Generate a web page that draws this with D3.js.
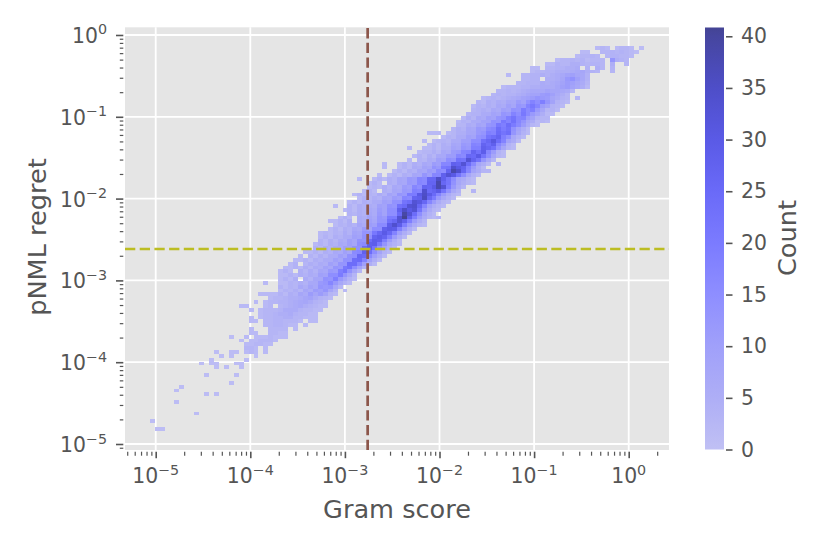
<!DOCTYPE html>
<html>
<head>
<meta charset="utf-8">
<script src="https://cdn.jsdelivr.net/npm/d3@7"></script>
<style>
	body { margin: 0; background: #fff; }
	text { font-family: "DejaVu Sans"; fill: #555; }
</style>
</head>
<body>
<script>
// log10 range of the histogram, 100 bins each way
var xBinStart = -5.0634, xBinStep = 0.05227;
var yBinStart = -0.1406, yBinStep = -0.04698;

// first filled x bin of each row, row 0 is the top one
var rowStart = [90,87,86,82,80,77,77,72,75,74,71,70,69,67,66,65,65,64,63,62,
	62,61,56,59,55,56,52,54,53,52,47,47,49,46,42,44,44,43,41,42,
	40,37,39,40,38,36,37,36,34,34,34,33,33,31,30,29,28,27,26,26,
	26,23,26,26,22,24,21,18,20,22,20,20,23,20,20,16,18,19,19,13,
	14,12,10,13,0,11,0,16,6,5,11,0,5,0,0,9,0,0,0,1];

// counts of each row
var rowCounts = [
	[2,3,2,0,2,3,3,2,0,1],
	[2,2,0,0,3,3,4,3,4,3,2,1],
	[2,3,3,4,3,0,3,4,4,3,3,2],
	[2,3,3,4,3,4,2,3,3,3,0,13,5,4,3],
	[2,2,4,3,3,5,5,4,3,4,4,3,0,5,0,0,3],
	[2,2,0,3,3,4,4,5,5,6,0,4,0,5,3,0,4],
	[2,3,3,4,4,5,5,5,6,7,8,5,4,3,0,0,3],
	[2,0,0,3,3,4,4,5,4,5,6,7,9,10,8,7,4],
	[3,3,4,4,0,5,5,6,8,12,14,10,7,4],
	[3,3,4,4,4,6,5,6,7,9,11,10,8,6,3],
	[2,3,3,3,4,4,5,5,6,6,6,8,10,11,9,7,5,2],
	[3,3,4,3,4,5,6,7,7,7,9,8,8,7,6,3],
	[3,4,3,4,4,5,6,8,9,9,11,12,10,7,5,3],
	[2,3,4,3,4,5,6,7,9,10,11,13,12,11,8,6,4,3,0,3],
	[3,2,5,4,6,5,8,7,11,9,14,18,15,19,13,9,4,3,2],
	[2,4,3,5,4,7,6,10,8,13,12,18,21,17,11,9,4,3,2],
	[3,4,5,4,7,6,10,9,14,13,20,16,19,12,8,3,4,2],
	[3,4,4,6,6,9,8,13,12,18,15,21,16,12,9,5,2,2],
	[2,5,3,7,6,10,9,13,14,19,22,17,18,11,9,4,3,3],
	[2,4,3,6,6,9,9,14,13,21,18,23,17,13,8,6,2,3,2],
	[3,3,6,5,9,8,13,14,21,19,24,20,16,11,6,3,2],
	[3,5,4,8,7,12,11,16,17,24,20,23,14,9,5,2],
	[2,2,2,0,2,3,5,5,8,8,12,13,19,18,25,22,24,13,8,4,2],
	[2,4,3,6,6,10,9,14,15,22,24,27,19,15,7,4,2],
	[2,0,2,3,4,3,6,6,10,10,15,15,23,26,31,24,18,9,6,2],
	[2,4,2,5,4,8,7,12,11,18,17,27,24,28,17,12,4,2],
	[2,0,0,2,2,4,2,5,5,9,8,13,12,19,19,28,26,23,14,8,3,2],
	[2,3,3,5,3,7,6,11,12,17,18,27,23,29,17,11,4,2],
	[2,4,2,5,3,7,7,11,11,17,16,26,25,30,22,15,8,3,2],
	[2,0,4,3,6,5,10,9,15,14,23,22,33,27,22,13,7,3],
	[2,0,0,2,4,2,5,4,7,6,11,10,17,17,28,27,33,24,16,8,5,2,0,3],
	[2,0,0,2,4,2,6,5,9,8,14,12,21,22,34,30,27,18,11,5,2],
	[2,4,2,5,4,8,7,11,10,16,15,27,38,34,26,17,9,6,3,3],
	[2,0,2,4,2,5,4,8,7,13,10,17,17,28,33,30,22,15,8,4,2],
	[2,0,0,2,4,2,5,4,8,7,12,11,17,16,26,26,35,28,22,15,8,6,3,2],
	[2,4,2,0,5,4,8,7,12,11,17,16,27,27,38,26,22,14,8,5,3,2],
	[2,3,2,5,3,7,6,11,10,17,15,27,26,30,38,33,20,12,6,3],
	[2,4,2,0,5,4,8,7,12,11,19,18,34,25,27,30,22,14,7,4,0,0,3],
	[2,4,2,4,3,6,4,9,7,13,12,20,20,30,35,30,25,18,11,6,3,2],
	[2,4,3,5,4,8,7,11,10,17,16,27,28,36,26,20,12,7,4,2],
	[2,4,2,5,4,6,6,10,9,14,14,22,24,33,31,26,17,11,6,3,2],
	[2,0,0,4,2,5,4,6,5,10,9,14,13,23,25,33,34,26,17,9,5,3,2],
	[2,4,2,5,4,7,6,11,9,15,15,28,35,30,33,22,12,6,3,2],
	[4,3,5,4,8,6,12,9,15,15,25,39,33,24,15,8,4,2],
	[2,4,2,0,6,5,9,7,13,12,20,20,33,41,28,19,11,6,3,2,3],
	[2,2,4,2,5,0,6,5,10,8,13,13,23,26,33,28,19,11,6,3],
	[2,4,3,5,4,8,6,11,10,16,16,29,34,29,19,11,6,3,2],
	[2,4,2,5,4,7,6,11,9,15,15,28,30,29,19,11,5,2],
	[2,3,2,4,3,6,4,9,8,13,13,21,26,30,26,18,10,5,2],
	[2,4,2,5,4,6,6,10,9,14,15,27,29,27,19,11,5,2],
	[4,2,5,3,6,5,10,8,14,13,24,29,28,19,11,5,2],
	[2,4,2,5,4,7,6,10,8,15,16,28,29,21,13,6,4,2],
	[4,2,5,4,6,6,10,9,14,14,25,29,22,13,8,4,2],
	[2,2,4,2,5,4,7,6,10,8,16,17,28,24,15,9,4,2],
	[2,0,4,2,5,3,6,6,10,8,14,15,26,25,16,10,5,2],
	[2,2,4,2,5,4,6,6,10,8,14,14,24,25,18,10,5,2],
	[2,4,0,3,5,4,6,5,10,8,13,13,24,24,17,10,5,2],
	[2,2,4,2,5,3,6,5,9,7,13,12,21,23,15,9,4],
	[2,4,2,0,5,3,6,4,8,7,12,11,19,22,14,8,3],
	[2,2,4,2,5,4,6,5,10,9,15,15,20,13,8,3],
	[2,4,2,5,0,6,4,8,8,14,13,19,12,8,4,2],
	[2,0,0,2,2,4,3,5,4,7,7,12,13,17,12,7,4,2],
	[4,2,4,3,7,5,9,7,13,12,13,7,3],
	[2,4,3,5,3,8,6,11,10,13,8,4,0,2],
	[2,2,2,2,4,2,5,4,8,6,11,8,11,8,3,2],
	[2,3,3,4,5,5,6,8,9,6,4,3,2],
	[2,0,2,3,3,4,4,5,6,7,8,6,4,3,2],
	[2,2,0,0,0,2,3,0,3,4,5,6,7,5,4,3,2,2],
	[2,0,2,3,3,3,4,6,6,6,4,3,3,2,2],
	[2,3,3,4,5,5,6,4,3,3,2,2],
	[2,0,2,3,3,4,4,5,5,3,3,2,2,2],
	[2,2,0,3,3,4,4,3,3,3,2,0,2,2],
	[3,3,4,4,3,2,2,0,2],
	[2,0,0,0,3,3,3,3,0,2],
	[2,2,0,0,3,3,2,2],
	[1,0,0,2,0,2,2,2,3,2,2,2],
	[1,0,2,2,3,3,3,2],
	[2,2,3,3,2,2],
	[3,3,2,0,2],
	[1,0,0,1,1,0,2,3,2,0,2],
	[1,0,1,0,0,0,0,1],
	[1,0,0,0,0,0,0,1],
	[1,0,1,1,0,0,0,1,1],
	[1,0,1,0,0,1],
	[],
	[1,0,0,0,0,0,1],
	[],
	[1],
	[1],
	[1],
	[1,0,1],
	[],
	[1],
	[],
	[],
	[1],
	[],
	[1],
	[],
	[1,1]
];

var xMajor = [-5,-4,-3,-2,-1,0];
var yMajor = [-5,-4,-3,-2,-1,0];
var minorSteps = [2,3,4,5,6,7,8,9];
var cbarTicks = [0,5,10,15,20,25,30,35,40];
var cbarMax = 40.85;
var vLine = 0.00174;
var hLine = 0.00242;

var colorStops = [0,5,10,15,20,25,30,35,40,cbarMax];
var colorValues = ['#c0c0f4','#aeaef6','#a0a0fa','#8e8eff','#7b7bff','#6a6af8','#5a5ae6','#4e4ec8','#46469f','#444494'];

var left = 125, right = 669, top_ = 27.3, bottom = 450;

var x = d3.scaleLog().domain([Math.pow(10,-5.3245), Math.pow(10,0.426)]).range([left, right]);
var y = d3.scaleLog().domain([Math.pow(10,-5.0733), Math.pow(10,0.094)]).range([bottom, top_]);
var color = d3.scaleLinear().domain(colorStops).range(colorValues);
var cbarY = d3.scaleLinear().domain([0, cbarMax]).range([449.5, 27.5]);

var svg = d3.select('body').append('svg')
	.attr('width', 830)
	.attr('height', 553)
	.style('display', 'block');

svg.append('rect')
	.attr('x', left).attr('y', top_)
	.attr('width', right - left).attr('height', bottom - top_)
	.attr('fill', '#e5e5e5');

// grid
svg.selectAll('.gx').data(xMajor).enter().append('line')
	.attr('x1', function(d){ return x(Math.pow(10,d)) })
	.attr('x2', function(d){ return x(Math.pow(10,d)) })
	.attr('y1', top_).attr('y2', bottom)
	.attr('stroke', '#fff').attr('stroke-width', 1.8);
svg.selectAll('.gy').data(yMajor).enter().append('line')
	.attr('y1', function(d){ return y(Math.pow(10,d)) })
	.attr('y2', function(d){ return y(Math.pow(10,d)) })
	.attr('x1', left).attr('x2', right)
	.attr('stroke', '#fff').attr('stroke-width', 1.8);

// flatten rows to cells
var cells = [];
rowCounts.forEach(function(row, j) {
	row.forEach(function(c, k) {
		if(c > 0) cells.push({i: rowStart[j] + k, j: j, c: c});
	});
});

svg.append('g').selectAll('rect').data(cells).enter().append('rect')
	.attr('x', function(d){ return x(Math.pow(10, xBinStart + d.i * xBinStep)) })
	.attr('width', function(d){ return x(Math.pow(10, xBinStart + (d.i + 1) * xBinStep)) - x(Math.pow(10, xBinStart + d.i * xBinStep)) })
	.attr('y', function(d){ return y(Math.pow(10, yBinStart + d.j * yBinStep)) })
	.attr('height', function(d){ return y(Math.pow(10, yBinStart + (d.j + 1) * yBinStep)) - y(Math.pow(10, yBinStart + d.j * yBinStep)) })
	.attr('fill', function(d){ return color(d.c) })
	.attr('shape-rendering', 'crispEdges');

// threshold lines
svg.append('line')
	.attr('x1', x(vLine)).attr('x2', x(vLine))
	.attr('y1', bottom).attr('y2', top_)
	.attr('stroke', '#8c564b').attr('stroke-width', 2.7)
	.attr('stroke-dasharray', '10.3 4.4');
svg.append('line')
	.attr('x1', left).attr('x2', right)
	.attr('y1', y(hLine)).attr('y2', y(hLine))
	.attr('stroke', '#bcbd22').attr('stroke-width', 2.7)
	.attr('stroke-dasharray', '10.3 4.4');

function minors(scale) {
	var d = scale.domain(), out = [];
	for (var e = -7; e <= 1; e++) {
		minorSteps.forEach(function(m) {
			var v = m * Math.pow(10, e);
			if (v >= d[0] && v <= d[1]) out.push(v);
		});
	}
	return out;
}

// ticks sit 1.7px away from the axes, like the original
function styleAxis(g) {
	g.select('.domain').remove();
	g.selectAll('.tick line').attr('stroke', '#555');
}

function expLabel(sel, exp) {
	sel.append('tspan').text('10');
	sel.append('tspan')
		.attr('font-size', 14.3)
		.attr('dy', -8.5)
		.text(exp < 0 ? '\u2212' + (-exp) : exp);
}

var xAxisG = svg.append('g').attr('transform', 'translate(0,' + (bottom + 1.7) + ')');
xAxisG.append('g').call(d3.axisBottom(x).tickValues(minors(x)).tickSize(4).tickFormat(''))
	.call(styleAxis).selectAll('.tick line').attr('stroke-width', 1.2);
xAxisG.append('g').call(d3.axisBottom(x).tickValues(xMajor.map(function(d){ return Math.pow(10,d) })).tickSize(6.5).tickFormat(''))
	.call(styleAxis).selectAll('.tick line').attr('stroke-width', 1.6);

var yAxisG = svg.append('g').attr('transform', 'translate(' + (left - 1.7) + ',0)');
yAxisG.append('g').call(d3.axisLeft(y).tickValues(minors(y)).tickSize(3.5).tickFormat(''))
	.call(styleAxis).selectAll('.tick line').attr('stroke-width', 1.2);
yAxisG.append('g').call(d3.axisLeft(y).tickValues(yMajor.map(function(d){ return Math.pow(10,d) })).tickSize(7.3).tickFormat(''))
	.call(styleAxis).selectAll('.tick line').attr('stroke-width', 1.6);

xMajor.forEach(function(d) {
	svg.append('text')
		.attr('x', x(Math.pow(10,d))).attr('y', 483)
		.attr('text-anchor', 'middle').attr('font-size', 20.4)
		.call(expLabel, d);
});
yMajor.forEach(function(d) {
	svg.append('text')
		.attr('x', 107).attr('y', y(Math.pow(10,d)) + 8)
		.attr('text-anchor', 'end').attr('font-size', 20.4)
		.call(expLabel, d);
});

svg.append('text').attr('x', 397).attr('y', 518)
	.attr('text-anchor', 'middle').attr('font-size', 25.6).text('Gram score');
svg.append('text').attr('transform', 'translate(46,237) rotate(-90)')
	.attr('text-anchor', 'middle').attr('font-size', 25.6).text('pNML regret');

// colorbar
var grad = svg.append('defs').append('linearGradient')
	.attr('id', 'cb').attr('x1', 0).attr('x2', 0).attr('y1', 1).attr('y2', 0);
colorStops.forEach(function(s, k) {
	grad.append('stop').attr('offset', s / cbarMax).attr('stop-color', colorValues[k]);
});
svg.append('rect')
	.attr('x', 705).attr('y', cbarY(cbarMax))
	.attr('width', 19).attr('height', cbarY(0) - cbarY(cbarMax))
	.attr('fill', 'url(#cb)');

var cbarG = svg.append('g').attr('transform', 'translate(726,0)');
cbarG.call(d3.axisRight(cbarY).tickValues(cbarTicks).tickSize(6.5).tickPadding(8.5))
	.call(styleAxis);
cbarG.selectAll('.tick line').attr('stroke-width', 1.6);
cbarG.selectAll('.tick text').attr('font-size', 20.4).attr('font-family', '"DejaVu Sans"').style('fill', '#555');

svg.append('text').attr('transform', 'translate(796,238) rotate(-90)')
	.attr('text-anchor', 'middle').attr('font-size', 25.6).text('Count');
</script>
</body>
</html>
